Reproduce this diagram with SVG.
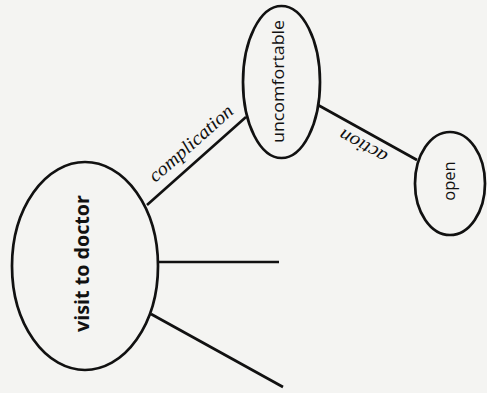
<svg xmlns="http://www.w3.org/2000/svg" width="487" height="393" viewBox="0 0 487 393">
<style>
.node{fill:none;stroke:#111;stroke-width:2.7}
.edge{stroke:#111;stroke-width:2.7;fill:none}
.lbl{font-family:"Open Sans","Liberation Sans",sans-serif;fill:#111;text-anchor:middle}
.elbl{font-family:"Liberation Serif","DejaVu Serif",serif;font-style:italic;fill:#111;text-anchor:middle}
</style>
<rect width="487" height="393" fill="#f4f4f2"/>
<g id="connectors">
<line class="edge" x1="147" y1="205" x2="246" y2="117"/>
<line class="edge" x1="158" y1="262" x2="279" y2="262"/>
<line class="edge" x1="151" y1="314" x2="283" y2="387"/>
<line class="edge" x1="318" y1="105" x2="417" y2="160"/>
<text class="elbl" x="195" y="148" font-size="19" textLength="106" lengthAdjust="spacingAndGlyphs" transform="rotate(-41.5 195 148)">complication</text>
<text class="elbl" x="366" y="141" font-size="19" textLength="52" lengthAdjust="spacingAndGlyphs" transform="rotate(209 366 141)">action</text>
</g>
<g id="visit-to-doctor">
<ellipse class="node" cx="85" cy="266" rx="73" ry="104"/>
<text class="lbl" x="89" y="263.5" font-size="20" font-weight="bold" textLength="137" lengthAdjust="spacingAndGlyphs" transform="rotate(-90 89 263.5)">visit to doctor</text>
</g>
<g id="uncomfortable">
<ellipse class="node" cx="281.5" cy="82" rx="38.5" ry="76"/>
<text class="lbl" x="284" y="81.5" font-size="17" textLength="123" lengthAdjust="spacingAndGlyphs" transform="rotate(-90 284 81.5)">uncomfortable</text>
</g>
<g id="open">
<ellipse class="node" cx="450" cy="183.5" rx="35" ry="51.5"/>
<text class="lbl" x="455" y="181" font-size="16.5" transform="rotate(-90 455 181)">open</text>
</g>
</svg>
